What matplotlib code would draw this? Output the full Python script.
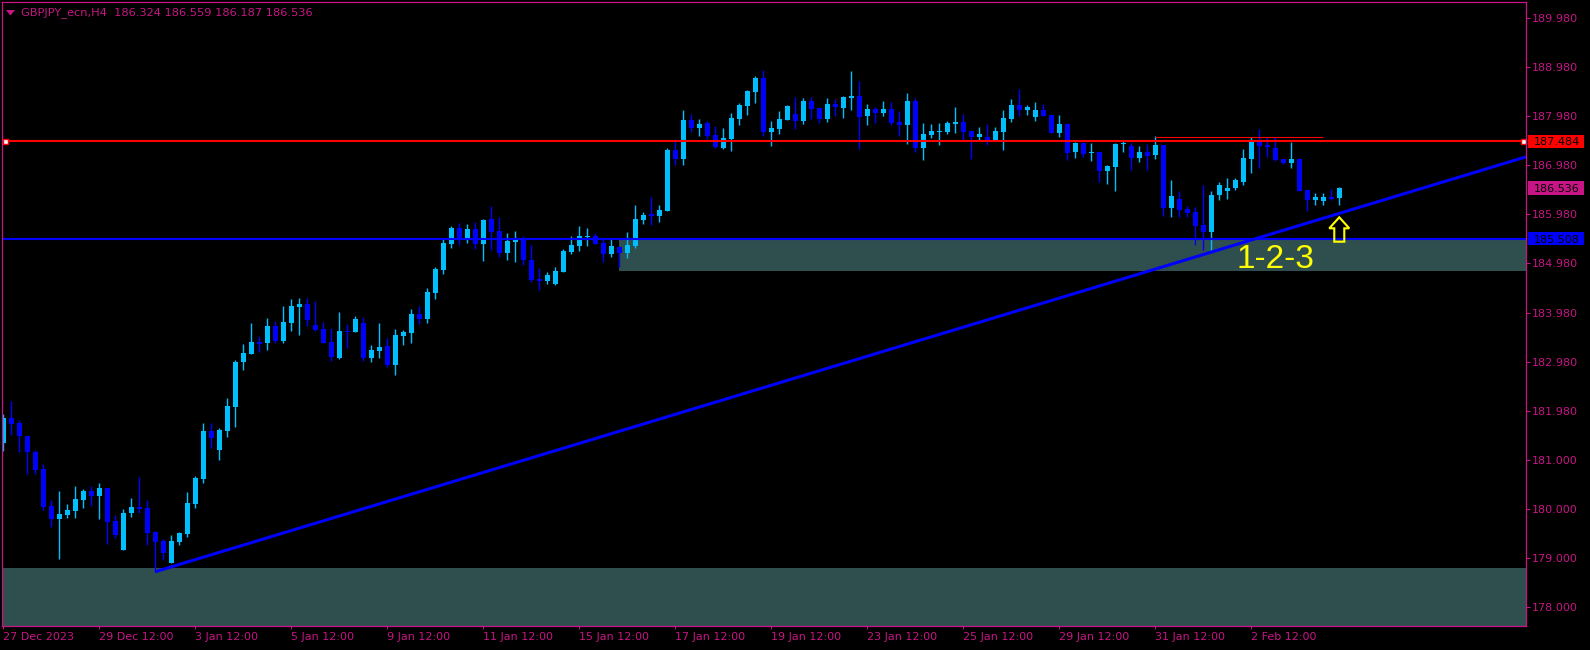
import matplotlib
matplotlib.use('Agg')
import matplotlib.pyplot as plt
import matplotlib.transforms as mtransforms
from matplotlib.patches import Rectangle, Polygon
import numpy as np

# ---------------- data (GBPJPY_ecn, H4) ----------------
opens = [
    181.35, 181.85, 181.75, 181.49, 181.16, 180.82, 180.06, 179.80, 179.88, 179.96,
    180.19, 180.37, 180.27, 180.43, 179.76, 179.17, 179.92, 180.04, 180.02, 179.53,
    179.35, 178.90, 179.33, 179.49, 180.10, 180.61, 181.59, 181.20, 181.59, 182.08,
    182.99, 183.16, 183.40, 183.38, 183.73, 183.42, 183.79, 184.11, 184.18, 183.75,
    183.67, 183.40, 183.08, 183.63, 183.61, 183.79, 183.08, 183.22, 183.32, 182.93,
    183.52, 183.59, 183.97, 183.87, 184.40, 184.87, 185.40, 185.72, 185.48, 185.70,
    185.40, 185.91, 185.66, 185.21, 185.44, 185.52, 185.07, 184.68, 184.64, 184.58,
    184.83, 185.23, 185.36, 185.54, 185.56, 185.42, 185.19, 185.34, 185.21, 185.36,
    185.89, 186.01, 185.97, 186.07, 187.31, 187.13, 187.92, 187.76, 187.86, 187.62,
    187.35, 187.53, 187.94, 188.21, 188.49, 188.78, 187.68, 187.74, 187.92, 188.04,
    187.90, 188.31, 188.17, 187.94, 188.25, 188.17, 188.37, 188.41, 188.00, 188.15,
    188.06, 188.15, 187.88, 187.82, 188.31, 187.35, 187.62, 187.68, 187.68, 187.84,
    187.88, 187.70, 187.57, 187.57, 187.51, 187.68, 187.94, 188.23, 188.13, 187.98,
    188.13, 188.02, 187.66, 187.84, 187.27, 187.45, 187.25, 187.27, 186.88, 186.96,
    187.43, 187.39, 187.15, 187.27, 187.21, 187.41, 186.13, 186.31, 186.11, 186.05,
    185.78, 185.64, 186.39, 186.48, 186.54, 186.66, 187.13, 187.47, 187.41, 187.35,
    187.13, 187.05, 187.13, 186.50, 186.29, 186.27, 186.35, 186.324]

highs = [
    181.94, 182.20, 181.81, 181.49, 181.20, 180.92, 180.19, 180.37, 180.10, 180.47,
    180.41, 180.47, 180.53, 180.43, 179.88, 180.00, 180.23, 180.65, 180.19, 179.55,
    179.39, 179.47, 179.53, 180.35, 180.67, 181.75, 181.75, 181.65, 182.26, 183.04,
    183.36, 183.79, 183.52, 183.89, 183.83, 184.13, 184.28, 184.30, 184.30, 184.24,
    183.81, 183.69, 184.01, 183.77, 183.93, 183.91, 183.34, 183.79, 183.48, 183.67,
    183.65, 184.07, 184.13, 184.50, 184.93, 185.50, 185.76, 185.82, 185.80, 185.84,
    185.91, 186.17, 185.95, 185.62, 185.66, 185.56, 185.38, 184.91, 184.83, 184.93,
    185.30, 185.56, 185.76, 185.72, 185.62, 185.50, 185.50, 185.36, 185.64, 186.19,
    186.05, 186.35, 186.19, 187.35, 187.53, 188.13, 188.04, 187.94, 187.90, 187.80,
    187.76, 188.06, 188.27, 188.53, 188.82, 188.94, 187.90, 188.10, 188.23, 188.39,
    188.37, 188.39, 188.17, 188.37, 188.35, 188.41, 188.92, 188.71, 188.25, 188.19,
    188.31, 188.29, 188.10, 188.47, 188.37, 187.86, 187.84, 187.86, 187.90, 188.19,
    188.04, 187.70, 187.78, 187.84, 187.78, 188.13, 188.35, 188.55, 188.23, 188.29,
    188.25, 188.02, 188.02, 187.86, 187.47, 187.47, 187.45, 187.27, 187.00, 187.45,
    187.49, 187.45, 187.39, 187.43, 187.60, 187.41, 186.70, 186.48, 186.17, 186.15,
    186.60, 186.48, 186.66, 186.74, 186.74, 187.33, 187.57, 187.74, 187.57, 187.57,
    187.13, 187.47, 187.15, 186.50, 186.43, 186.43, 186.52, 186.559]

lows = [
    181.18, 181.51, 181.16, 180.71, 180.71, 179.98, 179.64, 178.98, 179.82, 179.82,
    180.02, 180.06, 179.80, 179.29, 179.41, 179.17, 179.84, 179.92, 179.27, 178.72,
    178.96, 178.90, 179.27, 179.43, 180.02, 180.53, 181.24, 181.00, 181.47, 181.67,
    182.83, 183.16, 183.20, 183.24, 183.38, 183.38, 183.63, 183.54, 183.73, 183.63,
    183.38, 183.01, 183.06, 183.28, 183.61, 183.01, 182.99, 183.08, 182.89, 182.73,
    183.34, 183.38, 183.77, 183.79, 184.28, 184.79, 185.32, 185.38, 185.42, 185.30,
    185.05, 185.28, 185.13, 185.07, 185.03, 184.97, 184.62, 184.46, 184.58, 184.56,
    184.83, 185.19, 185.25, 185.36, 185.40, 185.03, 185.13, 184.93, 185.11, 185.32,
    185.80, 185.78, 185.84, 186.07, 187.00, 187.00, 187.68, 187.60, 187.53, 187.35,
    187.33, 187.29, 187.82, 188.02, 188.27, 187.60, 187.39, 187.64, 187.92, 187.74,
    187.84, 187.94, 187.86, 187.88, 188.00, 187.96, 188.13, 187.33, 187.82, 187.86,
    188.00, 187.82, 187.60, 187.43, 187.27, 187.11, 187.55, 187.41, 187.64, 187.66,
    187.51, 187.13, 187.51, 187.41, 187.49, 187.31, 187.88, 188.00, 188.02, 187.90,
    188.00, 187.66, 187.57, 187.11, 187.15, 187.17, 187.09, 186.66, 186.62, 186.48,
    187.27, 186.90, 187.07, 186.90, 187.13, 185.97, 185.95, 185.95, 185.95, 185.38,
    185.28, 185.28, 186.29, 186.31, 186.50, 186.60, 186.84, 186.94, 187.17, 187.09,
    187.02, 186.94, 186.48, 186.07, 186.19, 186.19, 186.29, 186.187]

closes = [
    181.85, 181.73, 181.49, 181.16, 180.80, 180.04, 179.80, 179.90, 179.98, 180.21,
    180.37, 180.27, 180.43, 179.74, 179.47, 179.92, 180.04, 180.00, 179.51, 179.33,
    179.11, 179.35, 179.51, 180.12, 180.63, 181.59, 181.45, 181.61, 182.10, 182.99,
    183.18, 183.40, 183.36, 183.73, 183.42, 183.81, 184.13, 184.18, 183.85, 183.65,
    183.38, 183.10, 183.63, 183.61, 183.87, 183.08, 183.24, 183.30, 182.93, 183.54,
    183.61, 183.97, 183.87, 184.42, 184.89, 185.42, 185.72, 185.48, 185.70, 185.40,
    185.89, 185.64, 185.21, 185.46, 185.50, 185.07, 184.66, 184.64, 184.76, 184.85,
    185.25, 185.38, 185.56, 185.56, 185.40, 185.19, 185.36, 185.21, 185.38, 185.91,
    185.99, 185.97, 186.09, 187.31, 187.13, 187.92, 187.76, 187.84, 187.60, 187.37,
    187.55, 187.96, 188.23, 188.51, 188.78, 187.68, 187.76, 187.94, 188.21, 187.90,
    188.31, 188.15, 187.94, 188.25, 188.19, 188.39, 188.41, 187.98, 188.15, 188.06,
    188.15, 187.86, 187.82, 188.31, 187.35, 187.64, 187.70, 187.70, 187.86, 187.88,
    187.68, 187.57, 187.64, 187.51, 187.70, 187.96, 188.23, 188.13, 188.19, 188.13,
    188.00, 187.66, 187.84, 187.25, 187.45, 187.23, 187.27, 186.88, 186.98, 187.43,
    187.45, 187.15, 187.27, 187.19, 187.41, 186.13, 186.37, 186.09, 186.03, 185.76,
    185.64, 186.39, 186.60, 186.54, 186.70, 187.15, 187.47, 187.39, 187.37, 187.11,
    187.05, 187.13, 186.48, 186.29, 186.35, 186.35, 186.31, 186.536]

x_tick_labels = ['27 Dec 2023', '29 Dec 12:00', '3 Jan 12:00', '5 Jan 12:00',
                 '9 Jan 12:00', '11 Jan 12:00', '15 Jan 12:00', '17 Jan 12:00',
                 '19 Jan 12:00', '23 Jan 12:00', '25 Jan 12:00', '29 Jan 12:00',
                 '31 Jan 12:00', '2 Feb 12:00']
y_tick_values = [178, 179, 180, 181, 182, 183, 184, 185, 186, 187, 188, 189, 190]
y_tick_labels = ['178.000', '179.000', '180.000', '181.000', '181.980', '182.980',
                 '183.980', '184.980', '185.980', '186.980', '187.980', '188.980', '189.980']

resistance_level = 187.484
support_level = 185.508
last_price = 186.536
short_line_level = 187.58
short_line_bars = [144, 165]
zone_upper = [185.508, 184.847]   # top, bottom
zone_upper_start = 77
zone_lower_top = 178.80
trend_bars = [19, 167]
trend_prices = [178.725, 186.02]
header = 'GBPJPY_ecn,H4  186.324 186.559 186.187 186.536'

# ---------------- styling ----------------
W, H = 1590, 650
MAG = '#C71585'
BULL = '#00BFFF'
BEAR = '#0000FF'
ZONE = '#2F4F4F'

fig = plt.figure(figsize=(W / 100, H / 100), dpi=100, facecolor='black')
L_PX, R_PX, T_PX, B_PX = 2.3, 1526.0, 2.3, 626.0
ax = fig.add_axes([L_PX / W, 1 - B_PX / H, (R_PX - L_PX) / W, (B_PX - T_PX) / H])
ax.set_facecolor('black')
ax.set_xlim(-0.125, 190.34)
ax.set_ylim(177.62, 190.317)
for s in ax.spines.values():
    s.set_color(MAG)
    s.set_linewidth(0.9)
    s.set_zorder(20)

o = np.array(opens); h = np.array(highs); l = np.array(lows); c = np.array(closes)
x = np.arange(len(o))

# zones
ax.add_patch(Rectangle((zone_upper_start, zone_upper[1]), 400, zone_upper[0] - zone_upper[1],
                       fc=ZONE, ec='none', zorder=1))
ax.add_patch(Rectangle((-10, 170), 400, zone_lower_top - 170, fc=ZONE, ec='none', zorder=1))

# candles
bull = c >= o
cols = np.where(bull, BULL, BEAR)
ax.vlines(x, l, h, colors=cols, lw=1.0, zorder=2)
body_h = np.maximum(np.abs(c - o), 0.024)
body_b = np.minimum(o, c)
ax.bar(x, body_h, bottom=body_b, width=0.62, color=cols, lw=0, zorder=3)

# horizontal lines
ax.axhline(resistance_level, color='#FF0000', lw=1.5, zorder=4)
ax.axhline(support_level, color='#0000FF', lw=1.5, zorder=4)
ax.hlines(short_line_level, short_line_bars[0], short_line_bars[1], color='#FF0000', lw=0.8, zorder=4)
ax.plot([0.2, 190.0], [resistance_level] * 2, 's', ms=3.6, mfc='white', mec='#FF0000',
        mew=1.0, zorder=6, clip_on=False)

# trend line (ray)
slope = (trend_prices[1] - trend_prices[0]) / (trend_bars[1] - trend_bars[0])
x_end = 192
ax.plot([trend_bars[0], x_end], [trend_prices[0], trend_prices[0] + slope * (x_end - trend_bars[0])],
        color='#0000FF', lw=2.2, zorder=5, solid_capstyle='butt')

# 1-2-3 label and arrow
ax.text(154.2, 184.90, '1-2-3', color='#FFFF00', fontsize=24, family='Liberation Sans',
        ha='left', va='baseline', zorder=7)
cx = 167
tip, base, bottom = 185.94, 185.716, 185.443
arrow = Polygon([(cx, tip), (cx + 1.25, base), (cx + 0.625, base), (cx + 0.625, bottom),
                 (cx - 0.625, bottom), (cx - 0.625, base), (cx - 1.25, base)],
                closed=True, fill=False, ec='#FFFF00', lw=1.5, zorder=7)
ax.add_patch(arrow)

# ticks
ax.yaxis.tick_right()
ax.set_yticks(y_tick_values)
ax.set_yticklabels(y_tick_labels)
ax.tick_params(axis='y', colors=MAG, labelcolor=MAG, length=3, width=0.8, pad=1.5,
               labelsize=8, direction='out')
ax.set_xticks(np.arange(0, 12 * len(x_tick_labels), 12))
ax.set_xticklabels(x_tick_labels, ha='left')
ax.tick_params(axis='x', colors=MAG, labelcolor=MAG, length=2.5, width=0.8, pad=2,
               labelsize=8, direction='out')

# price boxes on the right
trans = mtransforms.blended_transform_factory(ax.transAxes, ax.transData)
bx0 = (1528 - L_PX) / (R_PX - L_PX)
bw = 56 / (R_PX - L_PX)
tx = (1533.5 - L_PX) / (R_PX - L_PX)
bh = 13.5 / 49.12
for price, bg in [(resistance_level, '#FF0000'), (last_price, MAG), (support_level, '#0000FF')]:
    ax.add_patch(Rectangle((bx0, price - bh / 2), bw, bh, transform=trans, fc=bg, ec='none',
                           clip_on=False, zorder=8))
    ax.text(tx, price, f'{price:.3f}', transform=trans, color='black', fontsize=8,
            ha='left', va='center_baseline', zorder=9, clip_on=False)

# header
fig.patches.append(Polygon([(6 / W, 1 - 10 / H), (15 / W, 1 - 10 / H), (10.5 / W, 1 - 15.5 / H)],
                           closed=True, fc=MAG, ec='none', transform=fig.transFigure))
fig.text(21 / W, 1 - 12.8 / H, header, color=MAG, fontsize=8.2, ha='left', va='center')

fig.savefig('out.png', dpi=100, facecolor='black')
